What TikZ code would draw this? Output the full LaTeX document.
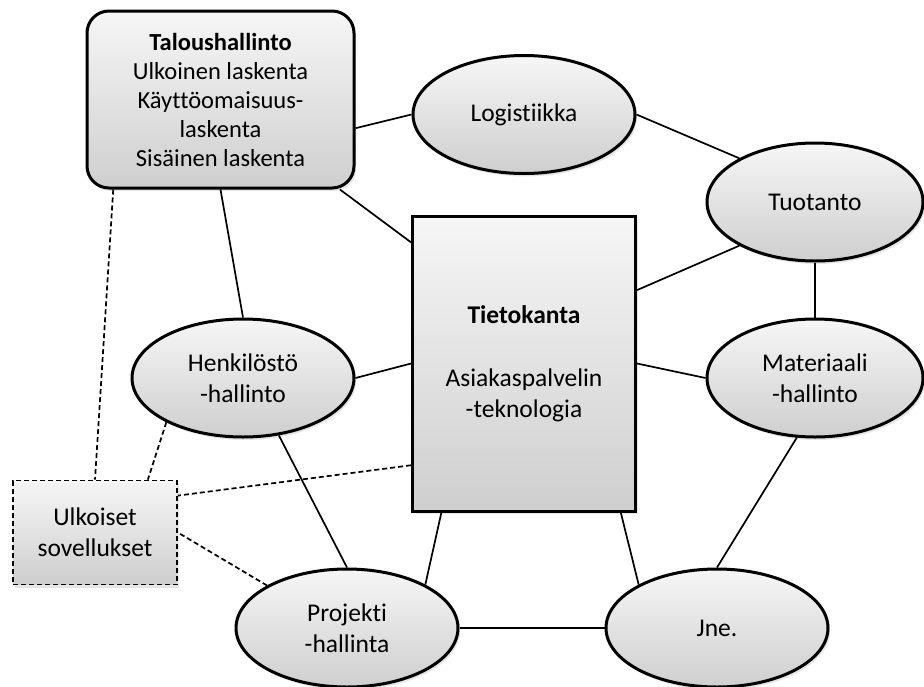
\documentclass[tikz,border=0pt]{standalone}
\usepackage{fontspec}
\setmainfont{Carlito}[Ligatures=NoCommon]
\usetikzlibrary{shapes.geometric}
\usetikzlibrary{shadows}

\begin{document}
\begin{tikzpicture}[x=1pt, y=-1pt,
    font=\fontsize{25.5}{31}\selectfont,
    part/.style={draw, line width=3pt, top color=gray!7, bottom color=gray!38,
                 drop shadow={opacity=0.2, shadow xshift=2pt, shadow yshift=-3pt},
                 align=center, inner sep=0pt},
    oval/.style={part, ellipse, minimum width=222pt, minimum height=118pt},
    extern/.style={part, line width=1.7pt, dash pattern=on 5pt off 3pt},
    link/.style={line width=1.7pt},
    dlink/.style={line width=1.7pt, dash pattern=on 5pt off 3pt}]
      \useasboundingbox (0,0) rectangle (924,686);

      \node[part, rounded corners=22pt, minimum width=267pt, minimum height=177pt,
            font=\fontsize{24.5}{29}\selectfont]
           (talous) at (220.5,99.5)
           {\textbf{Taloushallinto}\\Ulkoinen laskenta\\Käyttöomaisuus-\\laskenta\\Sisäinen laskenta};
      \node[part, minimum width=223pt, minimum height=295pt] (tieto) at (524,363.5)
           {\textbf{Tietokanta}\\[32pt]Asiakaspalvelin\\-teknologia};
      \node[oval] (logist) at (524,114.5) {Logistiikka};
      \node[oval, minimum width=216pt] (tuot) at (815,202) {Tuotanto};
      \node[oval] (henk) at (243,378) {Henkilöstö\\-hallinto};
      \node[oval, minimum width=216pt] (mater) at (815,378) {Materiaali\\-hallinto};
      \node[oval] (proj) at (347,628) {Projekti\\-hallinta};
      \node[oval] (jne) at (717,628) {Jne.};
      \node[extern, minimum width=164pt, minimum height=104pt] (ulk) at (95,532.5)
           {Ulkoiset\\sovellukset};

      \draw[link] (talous.-12) -- (logist.west);
      \draw[link] (talous.-37) -- (tieto.133);
      \draw[link] (talous.south) -- (henk.north);
      \draw[link] (logist.east) -- (tuot.150);
      \draw[link] (tieto.33) -- (tuot.210);
      \draw[link] (tuot.south) -- (mater.north);
      \draw[link] (tieto.east) -- (mater.west);
      \draw[link] (henk.east) -- (tieto.west);
      \draw[link] (henk.-58) -- (proj.north);
      \draw[link] (tieto.241) -- (proj.29);
      \draw[link] (tieto.303) -- (jne.151);
      \draw[link] (mater.253) -- (jne.north);
      \draw[link] (proj.east) -- (jne.west);

      \draw[dlink] (talous.220) -- (ulk.north);
      \draw[dlink] (henk.210) -- (ulk.45);
      \draw[dlink] (tieto.222) -- (ulk.24);
      \draw[dlink] (proj.152) -- (ulk.east);
    \end{tikzpicture}
\end{document}
